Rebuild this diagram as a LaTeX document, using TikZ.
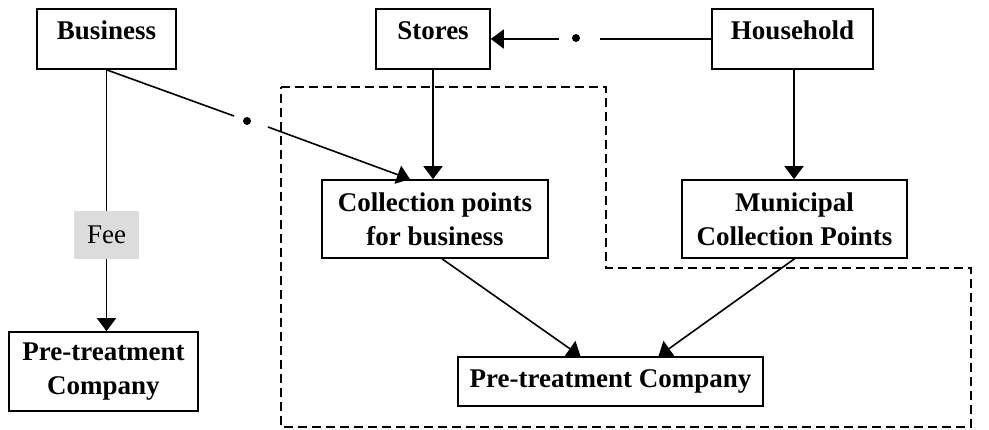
\documentclass[tikz,border=0pt]{standalone}
\usepackage{fontspec}
\setmainfont{Liberation Serif}
\usetikzlibrary{arrows.meta,calc}
\definecolor{feegray}{RGB}{220,220,220}
\begin{document}
\begin{tikzpicture}[x=1pt,y=-1pt,
  font=\fontsize{27}{34}\selectfont,
  box/.style={draw, line width=1.6pt, inner sep=0pt, align=center,
              font=\fontsize{27}{34}\selectfont\bfseries},
  topbox/.style={box, text height=31pt, text depth=29pt},
  link/.style={line width=1.6pt},
  arr/.style={link, -{Triangle[length=13pt,width=19pt]}},
  dot/.style={circle, fill, inner sep=0pt, minimum size=8pt},
  region/.style={line width=1.5pt, dash pattern=on 9pt off 5pt}
]
\useasboundingbox (0,0) rectangle (989,430);

% top row
\node[topbox, minimum width=139pt] (business) at (106.5,39) {Business};
\node[topbox, minimum width=114pt] (stores) at (433,39) {Stores};
\node[topbox, minimum width=161pt] (household) at (792.5,39) {Household};

% collection row
\node[box, minimum width=226pt, minimum height=78pt] (collection) at (435,219)
  {Collection points\\for business};
\node[box, minimum width=225pt, minimum height=78pt] (municipal) at (794.5,219)
  {Municipal\\Collection Points};

% pre-treatment companies
\node[box, minimum width=189pt, minimum height=79pt] (preleft) at (103.5,371.5)
  {Pre-treatment\\Company};
\node[box, minimum width=305pt, minimum height=49pt] (prebottom) at (610.5,381.5)
  {Pre-treatment Company};

% fee label on the business line
\node[fill=feegray, inner sep=0pt, minimum width=65pt, minimum height=48pt] (fee)
  at (106.5,235) {Fee};

% dashed region
\draw[region] (281,87) -- (606,87) -- (606,268) -- (971,268) -- (971,427)
  -- (281,427) -- cycle;

% business flows
\draw[link] (business.south) -- (fee.north);
\draw[arr] (fee.south) -- (fee.south |- preleft.north);
\node[dot] (d1) at (247,121) {};
\coordinate (g1a) at (234,116);
\coordinate (g1b) at (268,127);
\draw[link] (business.south) -- (g1a);
\draw[arr] (g1b) -- ([xshift=-25pt]collection.north);

% household to stores
\node[dot] (d2) at (576,38) {};
\coordinate (g2a) at (600,39);
\coordinate (g2b) at (559,39);
\draw[link] (household.west) -- (g2a);
\draw[arr] (g2b) -- (stores.east);

% down into collection points
\draw[arr] (stores.south) -- (stores.south |- collection.north);
\draw[arr] ([xshift=1.5pt]household.south) -- ([xshift=1.5pt]household.south |- municipal.north);

% collection points to pre-treatment
\draw[arr] ([xshift=7pt]collection.south) -- ([xshift=-30pt]prebottom.north);
\draw[arr] (municipal.south) -- ([xshift=48pt]prebottom.north);
\end{tikzpicture}
\end{document}
